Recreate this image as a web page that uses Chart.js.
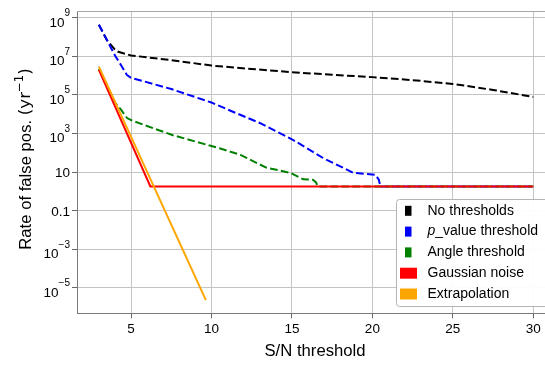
<!DOCTYPE html>
<html><head><meta charset="utf-8">
<script src="https://cdn.jsdelivr.net/npm/chart.js@4/dist/chart.umd.min.js"></script>
<style>html,body{margin:0;padding:0;background:#fff;overflow:hidden}#wrap{position:relative;width:545px;height:366px}</style>
</head><body><div id="wrap"><canvas id="c" width="545" height="366"></canvas></div>
<script>
// ---- data ----
const seriesNames = ['No thresholds', 'p_value threshold', 'Angle threshold', 'Gaussian noise', 'Extrapolation'];
const seriesColors = ['#000000', '#0000ff', '#008000', '#ff0000', '#ffa500'];

const noThrX = [3, 3.5, 4, 4.2, 5, 7.5, 10, 12.5, 15, 17.5, 20, 22.5, 25, 27.5, 30];
const noThrY = [4.3e8, 6.9e7, 2.2e7, 1.7e7, 1.1e7, 6.3e6, 3.3e6, 2.2e6, 1.5e6, 1.1e6, 8.3e5, 5.8e5, 3.7e5, 1.8e5, 7.8e4];

const pValX = [3, 3.5, 4, 4.4, 4.75, 5, 5.8, 7.5, 10, 11.4, 13, 15, 17, 18.8, 20.2, 20.4, 20.5, 30];
const pValY = [4.3e8, 6.9e7, 1.1e7, 3.2e6, 1.05e6, 7.6e5, 5e5, 2e5, 4e4, 1.26e4, 3.5e3, 500, 50, 9.3, 7.1, 4, 1.8, 1.8];

const angleX = [3, 3.5, 4, 4.4, 4.75, 5.1, 7.6, 10.5, 11.8, 13.4, 14.9, 15.7, 16.3, 16.5, 16.6, 30];
const angleY = [2.2e6, 3.2e5, 4e4, 1.6e4, 6.3e3, 4.5e3, 810, 170, 78, 17, 9.1, 4.2, 4, 2.9, 1.8, 1.8];

const gaussX = [3, 6.2, 30];
const gaussY = [1.95e6, 1.8, 1.8];

const extrapX = [3, 9.65];
const extrapY = [2.9e6, 2.3e-6];

const xTicks = [5, 10, 15, 20, 25, 30];
const yTicks = [1e9, 1e7, 1e5, 1e3, 10, 0.1, 1e-3, 1e-5];
const yTickLabels = ['10^9', '10^7', '10^5', '10^3', '10', '0.1', '10^\u22123', '10^\u22125'];
const xTitle = 'S/N threshold';
const yTitleMain = 'Rate of false pos. ';
const yTitleUnit = '(yr';
const yTitleSup = '\u22121';

// ---- chart ----
const FONT = '"Liberation Sans", Arial, sans-serif';
const MATH = '"DejaVu Sans", sans-serif';
const toPts = (xs, ys) => xs.map((x, i) => ({x: x, y: ys[i]}));
const xsAll = [noThrX, pValX, angleX, gaussX, extrapX];
const ysAll = [noThrY, pValY, angleY, gaussY, extrapY];
const dashed = [true, true, true, false, false];
const orders = [5, 4, 3, 2, 1];

const datasets = seriesNames.map((n, i) => ({
  label: n,
  data: toPts(xsAll[i], ysAll[i]),
  borderColor: seriesColors[i],
  backgroundColor: seriesColors[i],
  borderWidth: 2,
  borderDash: dashed[i] ? [7.7, 3.3] : [],
  pointRadius: 0,
  tension: 0,
  fill: false,
  order: orders[i]
}));

const decorPlugin = {
  id: 'decor',
  beforeDatasetsDraw(chart) {
    const {ctx, chartArea: a} = chart;
    ctx.save();
    ctx.strokeStyle = '#a8a8a8';
    ctx.lineWidth = 1;
    ctx.beginPath();
    ctx.moveTo(a.left, Math.round(a.top) + 0.5);
    ctx.lineTo(a.right, Math.round(a.top) + 0.5);
    ctx.stroke();
    ctx.restore();
  },
  afterDraw(chart) {
    const {ctx, chartArea: a} = chart;
    const ys = chart.scales.y;
    ctx.save();
    ctx.fillStyle = '#000';
    // y tick labels with superscripts
    const rightX = 70;
    yTicks.forEach((v, i) => {
      const py = ys.getPixelForValue(v);
      const lab = yTickLabels[i];
      const parts = lab.split('^');
      ctx.textBaseline = 'alphabetic';
      ctx.textAlign = 'left';
      if (parts.length === 2) {
        ctx.font = '13.5px ' + FONT;
        const wb = ctx.measureText(parts[0]).width;
        ctx.font = '10px ' + FONT;
        const we = ctx.measureText(parts[1]).width;
        ctx.font = '13.5px ' + FONT;
        ctx.fillText(parts[0], rightX - we - wb, py + 9);
        ctx.font = '10px ' + FONT;
        ctx.fillText(parts[1], rightX - we, py - 1.5);
      } else {
        ctx.font = '13.5px ' + FONT;
        const w = ctx.measureText(lab).width;
        ctx.fillText(lab, rightX - w, py + 5);
      }
    });
    // x title
    ctx.font = '16.7px ' + FONT;
    ctx.textAlign = 'center';
    ctx.textBaseline = 'middle';
    ctx.fillText(xTitle, 315, 351);
    // y title (rotated)
    ctx.save();
    ctx.translate(26, 159);
    ctx.rotate(-Math.PI / 2);
    ctx.textBaseline = 'middle';
    ctx.textAlign = 'left';
    ctx.font = '16.7px ' + FONT;
    const w1 = ctx.measureText(yTitleMain).width;
    ctx.font = '16.7px ' + MATH;
    const w2 = ctx.measureText(yTitleUnit).width;
    const w4 = ctx.measureText(')').width;
    ctx.font = '11.7px ' + MATH;
    const w3 = ctx.measureText(yTitleSup).width;
    let x0 = -(w1 + w2 + w3 + w4) / 2;
    ctx.font = '16.7px ' + FONT;
    ctx.fillText(yTitleMain, x0, 0); x0 += w1;
    ctx.font = '16.7px ' + MATH;
    ctx.fillText(yTitleUnit, x0, 0); x0 += w2;
    ctx.font = '11.7px ' + MATH;
    ctx.fillText(yTitleSup, x0, -6); x0 += w3;
    ctx.font = '16.7px ' + MATH;
    ctx.fillText(')', x0, 0);
    ctx.restore();
    // legend
    const bx = 396, by = 199.5, bw = 160, bh = 107;
    ctx.beginPath();
    if (ctx.roundRect) ctx.roundRect(bx + 0.5, by, bw, bh, 3); else ctx.rect(bx + 0.5, by, bw, bh);
    ctx.fillStyle = 'rgba(255,255,255,0.95)';
    ctx.fill();
    ctx.strokeStyle = '#b4b4b4';
    ctx.lineWidth = 1;
    ctx.stroke();
    chart.data.datasets.forEach((d, i) => {
      const cy = 210.8 + i * 20.8;
      ctx.fillStyle = d.borderColor;
      if (d.borderDash && d.borderDash.length) {
        ctx.fillRect(405, cy - 5, 6.5, 10);
      } else {
        ctx.fillRect(400, cy - 5.5, 17, 11);
      }
      ctx.fillStyle = '#000';
      ctx.textAlign = 'left';
      ctx.textBaseline = 'middle';
      let tx = 427.5;
      let label = d.label;
      if (label.startsWith('p_')) {
        ctx.font = 'italic 14px ' + FONT;
        ctx.fillText('p', tx, cy);
        tx += ctx.measureText('p').width;
        label = label.slice(1);
      }
      ctx.font = '14px ' + FONT;
      ctx.fillText(label, tx, cy);
    });
    ctx.restore();
  }
};

new Chart(document.getElementById('c'), {
  type: 'line',
  data: {datasets: datasets},
  options: {
    responsive: false,
    animation: false,
    devicePixelRatio: 1,
    layout: {padding: {left: 0, right: 0, top: 5, bottom: 0}},
    plugins: {legend: {display: false}, tooltip: {enabled: false}},
    scales: {
      x: {
        type: 'linear',
        min: 1.64, max: 30.73,
        afterBuildTicks: s => { s.ticks = xTicks.map(v => ({value: v})); },
        afterFit: s => { s.height = 52.7; },
        ticks: {font: {size: 13.5, family: FONT}, color: '#000', padding: 3, maxRotation: 0,
                callback: v => String(v)},
        grid: {color: '#c4c4c4', lineWidth: 1, tickLength: 5, tickColor: '#666', drawTicks: true},
        border: {display: true, color: '#7a7a7a', width: 1}
      },
      y: {
        type: 'logarithmic',
        min: 4.79e-7, max: 2.19e9,
        afterBuildTicks: s => { s.ticks = yTicks.map(v => ({value: v})); },
        afterFit: s => { s.width = 77; },
        ticks: {font: {size: 13.5, family: FONT}, color: '#000', padding: 3, callback: () => ''},
        grid: {color: '#c4c4c4', lineWidth: 1, tickLength: 5, tickColor: '#666', drawTicks: true},
        border: {display: true, color: '#7a7a7a', width: 1}
      }
    }
  },
  plugins: [decorPlugin]
});
</script>
</body></html>
